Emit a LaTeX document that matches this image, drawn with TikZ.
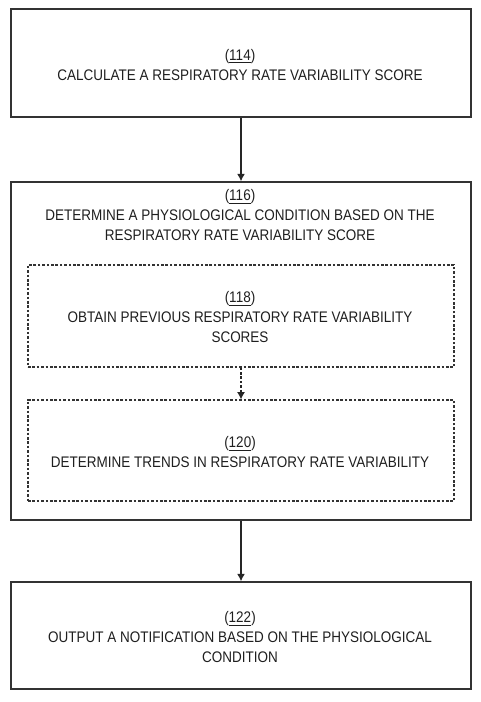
\documentclass[tikz,border=0pt]{standalone}
\usepackage{fontspec}
\setmainfont[FakeStretch=0.88]{Liberation Sans}
\usetikzlibrary{arrows.meta}
\begin{document}
\begin{tikzpicture}[x=0.75pt,y=-0.75pt,
  txt/.style={align=center,font=\fontsize{11.5pt}{15pt}\selectfont,text=black!88},
  solidbox/.style={draw=black!80,line width=1.1pt,minimum width=345pt,inner sep=0pt},
  dashbox/.style={draw=black!80,line width=0.9pt,dash pattern=on 2pt off 1.3pt,minimum width=319.5pt,inner sep=0pt},
  arr/.style={draw=black!85,line width=1.1pt,-{Latex[length=5.5pt,width=6pt]}},
  darr/.style={draw=black!85,line width=0.9pt,dash pattern=on 2pt off 1.3pt,-{Latex[length=5.5pt,width=6pt]}}]
\useasboundingbox[fill=white] (0,0) rectangle (481,702);
\node[solidbox,minimum height=81pt] (b114) at (241,63) {};
\node[txt] (t114) at (240,65) {(\underline{114})\\CALCULATE A RESPIRATORY RATE VARIABILITY SCORE};
\node[solidbox,minimum height=253.5pt] (b116) at (241,351) {};
\node[txt,anchor=north] (t116) at (240,185) {(\underline{116})\\DETERMINE A PHYSIOLOGICAL CONDITION BASED ON THE\\RESPIRATORY RATE VARIABILITY SCORE};
\node[dashbox,minimum height=76.5pt] (b118) at (241,316) {};
\node[txt] (t118) at (240,317.5) {(\underline{118})\\OBTAIN PREVIOUS RESPIRATORY RATE VARIABILITY\\SCORES};
\node[dashbox,minimum height=75.75pt] (b120) at (241,450.5) {};
\node[txt] (t120) at (240,452.5) {(\underline{120})\\DETERMINE TRENDS IN RESPIRATORY RATE VARIABILITY};
\node[solidbox,minimum height=80.25pt] (b122) at (241,635.5) {};
\node[txt] (t122) at (240,637.5) {(\underline{122})\\OUTPUT A NOTIFICATION BASED ON THE PHYSIOLOGICAL\\CONDITION};
\draw[arr] (b114.south) -- (b116.north);
\draw[darr] (b118.south) -- (b120.north);
\draw[arr] (b116.south) -- (b122.north);
\end{tikzpicture}
\end{document}
